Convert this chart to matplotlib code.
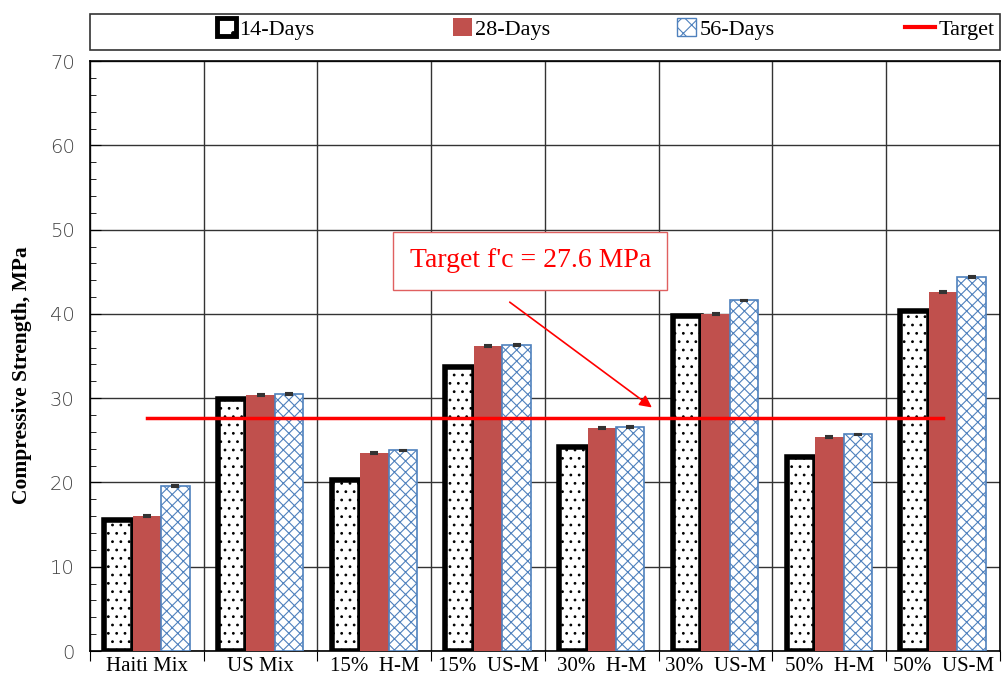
import numpy as np
import matplotlib
matplotlib.use("Agg")
import matplotlib.pyplot as plt
from matplotlib.patches import Patch, Rectangle
from matplotlib.lines import Line2D

mixes = ["Haiti Mix", "US Mix", "15%  H-M", "15%  US-M",
         "30%  H-M", "30%  US-M", "50%  H-M", "50%  US-M"]
days14 = [15.5, 29.9, 20.3, 33.7, 24.2, 39.7, 23.0, 40.3]
days28 = [16.0, 30.4, 23.5, 36.2, 26.5, 40.0, 25.4, 42.6]
days56 = [19.6, 30.5, 23.8, 36.3, 26.6, 41.6, 25.7, 44.4]
err28 = [0.1] * 8
err56 = [0.1] * 8
target = 27.6

plt.rcParams['font.family'] = ['Liberation Serif', 'DejaVu Serif']
plt.rcParams['hatch.linewidth'] = 0.8

fig = plt.figure(figsize=(10.08, 6.87), dpi=100)
ax = fig.add_axes([0.0893, 0.0524, 0.9027, 0.8586])

x = np.arange(len(mixes))
w = 0.25
ax.bar(x - w, days14, w, facecolor="white", edgecolor="black",
       linewidth=4, hatch="..", zorder=3)
ax.bar(x, days28, w, color="#C0504D", yerr=err28, capsize=3,
       error_kw=dict(lw=1, capthick=1.5, ecolor="#333333"), zorder=3)
ax.bar(x + w, days56, w, facecolor="white", edgecolor="#4F81BD",
       linewidth=1.2, hatch="xxx", yerr=err56, capsize=3,
       error_kw=dict(lw=1, capthick=1.5, ecolor="#333333"), zorder=3)

ax.plot([0, len(mixes) - 1], [target, target], color="red", lw=2.5, zorder=4)

ax.set_xlim(-0.5, len(mixes) - 0.5)
ax.set_ylim(0, 70)
ax.set_yticks(np.arange(0, 71, 10))
ax.set_yticks(np.arange(0, 71, 2), minor=True)
ax.set_xticks(np.arange(-0.5, len(mixes), 1))
ax.set_xticklabels([])
ax.set_xticks(x, minor=True)
ax.set_xticklabels(mixes, minor=True, fontsize=15)
ax.tick_params(axis="x", which="major", direction="out", length=7)
ax.tick_params(axis="x", which="minor", length=0, pad=4)
ax.tick_params(axis="y", which="major", direction="in", length=8,
               labelsize=14, labelcolor="#404040", pad=11)
ax.tick_params(axis="y", which="minor", direction="in", length=4)
for lab in ax.get_yticklabels():
    lab.set_family("DejaVu Sans")
    lab.set_fontweight("light")
ax.grid(True, which="major", color="#333333", lw=1, zorder=0)
for s in ax.spines.values():
    s.set_color("black")
    s.set_linewidth(1.2)

ax.set_ylabel("Compressive Strength, MPa", fontsize=15.5, fontweight="bold")
ax.yaxis.set_label_coords(-0.064, 0.468)

# callout box and arrow
ax.text(3.37, 46.3, "Target f'c = 27.6 MPa", fontsize=20, color="red",
        ha="center", va="center", zorder=6,
        bbox=dict(boxstyle="square,pad=0.6", fc="white", ec="#E06060", lw=1))
ax.annotate("", xy=(4.44, 28.9), xytext=(3.19, 41.4),
            arrowprops=dict(arrowstyle="-|>", color="red", lw=1.2,
                            mutation_scale=18, shrinkA=0, shrinkB=0),
            zorder=6)

# legend: framed strip above the plot
fig.patches.append(Rectangle((90 / 1008, 1 - 50 / 687), 910 / 1008, 36 / 687,
                             transform=fig.transFigure, fc="white",
                             ec="#333333", lw=1.2))
entries = [
    (Patch(facecolor="white", edgecolor="black", linewidth=3.5, hatch="."),
     "14-Days", 217),
    (Patch(facecolor="#C0504D"), "28-Days", 453),
    (Patch(facecolor="white", edgecolor="#4F81BD", hatch="xx"), "56-Days", 677),
    (Line2D([0], [0], color="red", lw=3), "Target", 905),
]
for h, lab, px in entries:
    fig.legend([h], [lab], loc="center left",
               bbox_to_anchor=(px / 1008, 1 - 29 / 687), frameon=False,
               fontsize=16, borderpad=0, borderaxespad=0,
               handlelength=1.35 if lab == "Target" else 0.85,
               handleheight=0.85, handletextpad=0.15)

fig.savefig("out.png", dpi=100)
